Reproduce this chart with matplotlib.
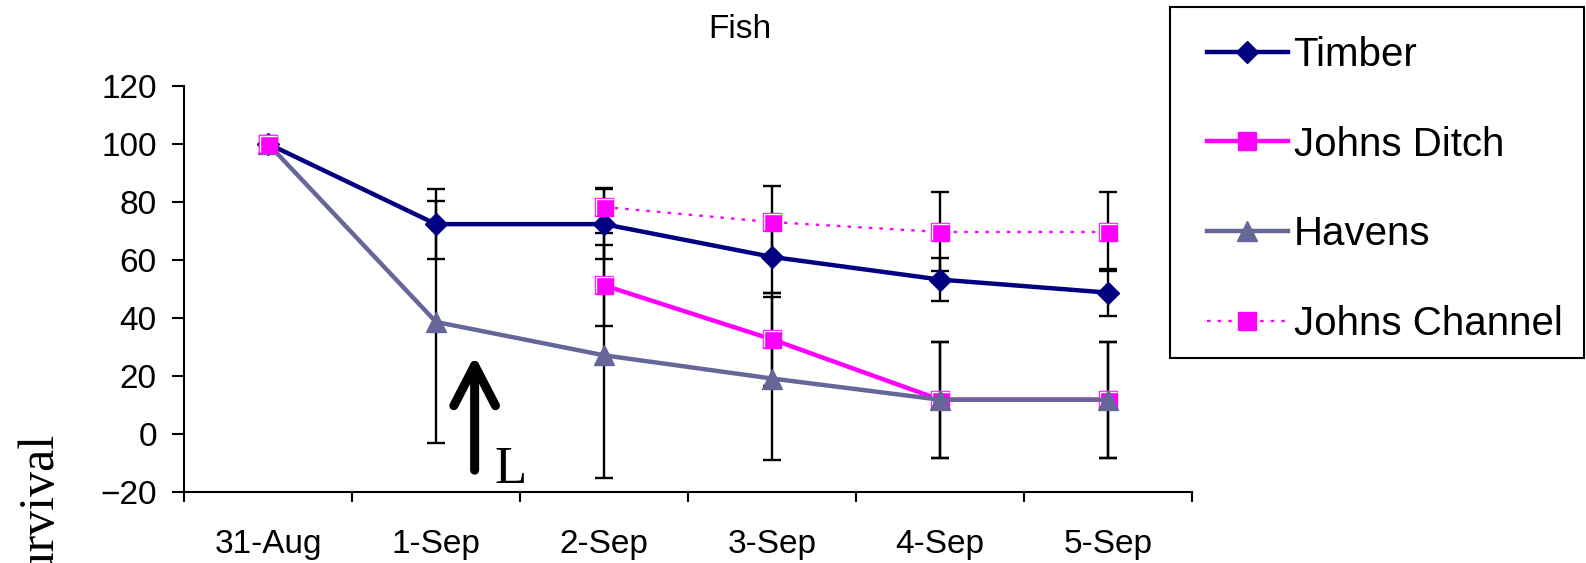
import numpy as np
from matplotlib import pyplot as plt
from matplotlib.path import Path
from matplotlib.patches import Rectangle

plt.rcParams['font.family'] = ['Liberation Sans', 'DejaVu Sans']

days = ["31-Aug", "1-Sep", "2-Sep", "3-Sep", "4-Sep", "5-Sep"]

timber = [100, 72.3, 72.3, 61.0, 53.2, 48.7]
timber_err = [0, 12.0, 12.0, 12.5, 7.5, 8.0]

johns_ditch = [100, np.nan, 51.2, 32.6, 11.8, 11.8]
johns_ditch_err = [0, np.nan, 14.0, 16.0, 20.0, 20.0]

havens = [100, 38.6, 27.1, 19.1, 11.8, 11.8]
havens_err = [0, 41.6, 42.3, 28.2, 20.0, 20.0]

johns_channel = [100, np.nan, 78.2, 73.0, 69.6, 69.6]
johns_channel_err = [0, np.nan, 6.5, 12.5, 13.6, 13.6]

yticks = [-20, 0, 20, 40, 60, 80, 100, 120]

W, H = 1586, 563
fig = plt.figure(figsize=(W / 100, H / 100), dpi=100)
ax = fig.add_axes([184 / W, 1 - 492 / H, (1192 - 184) / W, (492 - 85.7) / H])

x = np.arange(len(days))

# error bars first, markers cover them
for vals, errs in [(timber, timber_err), (johns_ditch, johns_ditch_err),
                   (havens, havens_err), (johns_channel, johns_channel_err)]:
    ax.errorbar(x, vals, yerr=errs, fmt='none', ecolor='black',
                elinewidth=1.7, capsize=6.5, capthick=1.7, zorder=2)

# white "L" highlight inside the square markers (Excel style)
corner = Path([(-0.36, -0.36), (-0.36, 0.36), (0.38, 0.36)],
              [Path.MOVETO, Path.LINETO, Path.LINETO])

l_timber, = ax.plot(x, timber, color='#000080', lw=3.2, marker='D', ms=11.5,
                    mfc='#000080', mec='#000080', zorder=3)
l_ditch, = ax.plot(x, johns_ditch, color='#FF00FF', lw=3.2, marker='s', ms=13,
                   mfc='#FF00FF', mec='#FF00FF', zorder=3)
ax.plot(x, johns_ditch, ls='none', marker=corner, ms=12.5, mfc='none',
        mec='white', mew=1.0, zorder=3)
l_havens, = ax.plot(x, havens, color='#666699', lw=3.2, marker='^', ms=15,
                    mfc='#666699', mec='#666699', zorder=3)
l_channel, = ax.plot(x, johns_channel, color='#FF00FF', lw=1.7,
                     ls=(0, (1.5, 3)), marker='s', ms=13,
                     mfc='#FF00FF', mec='#FF00FF', zorder=3)
ax.plot(x, johns_channel, ls='none', marker=corner, ms=12.5, mfc='none',
        mec='white', mew=1.0, zorder=3)

ax.set_xlim(-0.5, len(days) - 0.5)
ax.set_ylim(-20, 120)
ax.set_yticks(yticks)
ax.set_xticks(np.arange(len(days) + 1) - 0.5)
ax.set_xticklabels([])
ax.set_xticks(x, minor=True)
ax.set_xticklabels(days, minor=True)
ax.tick_params(axis='x', which='major', direction='out', length=7, width=1.5)
ax.tick_params(axis='x', which='minor', length=0, pad=27, labelsize=24)
ax.tick_params(axis='y', direction='out', length=8.6, width=1.5, pad=11,
               labelsize=24)
for s in ['top', 'right']:
    ax.spines[s].set_visible(False)
for s in ['left', 'bottom']:
    ax.spines[s].set_linewidth(1.5)

# "L" arrow annotation
ax.annotate('', xy=(1.23, 27), xytext=(1.23, -12.5),
            arrowprops=dict(arrowstyle='->,head_length=1.45,head_width=0.75',
                            mutation_scale=20, lw=6.5, color='black',
                            shrinkA=0, shrinkB=0, capstyle='round',
                            joinstyle='round'))
ax.text(1.35, -17, 'L', family='Liberation Serif', fontsize=38,
        ha='left', va='baseline')

fig.text(740 / W, 1 - 29 / H, 'Fish', ha='center', va='center', fontsize=24)

# y label, mostly cut off at the bottom edge as in the source
fig.text(42 / W, 1 - 435 / H, '% survival', family='Liberation Serif',
         fontsize=36, rotation=90, ha='center', va='top')

# legend box
fig.patches.append(Rectangle((1170 / W, 1 - 358 / H), (1584 - 1170) / W,
                             (358 - 7) / H, transform=fig.transFigure,
                             fill=False, edgecolor='black', lw=1.5))
fig.legend([l_timber, l_ditch, l_havens, l_channel],
           ['Timber', 'Johns Ditch', 'Havens', 'Johns Channel'],
           loc='upper left', bbox_to_anchor=(1207 / W, 1 - 36 / H),
           frameon=False, fontsize=29, handlelength=2.0, handletextpad=0.15,
           labelspacing=1.28, borderpad=0, borderaxespad=0)

fig.savefig('out.png', dpi=100)
